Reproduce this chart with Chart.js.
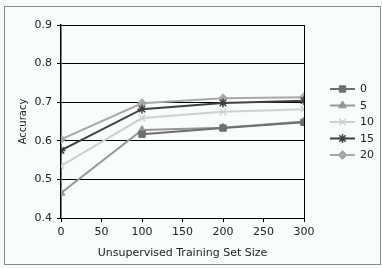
<!DOCTYPE html>
<html><head><meta charset="utf-8">
<script src="https://cdn.jsdelivr.net/npm/chart.js@4"></script>
<style>html,body{margin:0;padding:0;background:#fff;}#wrap{width:382px;height:268px;}</style>
</head><body><div id="wrap"><canvas id="c" width="382" height="268"></canvas></div>
<script>
const xValues = [0, 100, 200, 300];
const seriesNames = ['0', '5', '10', '15', '20'];
const s0 = [null, 0.617, 0.633, 0.648];
const s5 = [0.465, 0.628, 0.634, 0.650];
const s10 = [0.535, 0.659, 0.675, 0.682];
const s15 = [0.575, 0.682, 0.698, 0.704];
const s20 = [0.604, 0.697, 0.710, 0.713];
const yTicks = [0.4, 0.5, 0.6, 0.7, 0.8, 0.9];
const xTicks = [0, 50, 100, 150, 200, 250, 300];

const colors = ['#6e6e6e', '#969696', '#cfcfcf', '#404040', '#a8a8a8'];
const styles = ['rect', 'triangle', 'crossRot', 'star', 'rectRot'];
const radii = [4.5, 4.5, 4.5, 4.5, 4.5];
const allSeries = [s0, s5, s10, s15, s20];

const datasets = allSeries.map((s, i) => ({
  label: seriesNames[i],
  data: s.map((v, j) => ({x: xValues[j], y: v})),
  borderColor: colors[i],
  backgroundColor: colors[i],
  pointStyle: styles[i],
  pointRadius: radii[i],
  pointBorderWidth: (styles[i]==='crossRot'||styles[i]==='star') ? 1.5 : 1,
  borderWidth: 2,
  spanGaps: false,
  tension: 0
}));

const framePlugin = {
  id: 'frame',
  beforeDraw(chart) {
    const ctx = chart.ctx;
    ctx.save();
    ctx.fillStyle = '#f9fcfc';
    ctx.fillRect(0, 0, chart.width, chart.height);
    ctx.strokeStyle = '#8a8a8a';
    ctx.lineWidth = 1;
    ctx.strokeRect(4.5, 6.5, 376, 258);
    ctx.restore();
  },
  afterDraw(chart) {
    const ctx = chart.ctx;
    ctx.save();
    const x0 = 330, x1 = 355, yStart = 89, dy = 16.5;
    chart.data.datasets.forEach((ds, i) => {
      const y = yStart + i * dy;
      ctx.strokeStyle = ds.borderColor;
      ctx.lineWidth = 2;
      ctx.beginPath(); ctx.moveTo(x0, y); ctx.lineTo(x1, y); ctx.stroke();
      ctx.fillStyle = ds.backgroundColor;
      ctx.lineWidth = ds.pointBorderWidth;
      Chart.helpers.drawPoint(ctx, {pointStyle: ds.pointStyle, radius: ds.pointRadius, rotation: 0, borderWidth: ds.pointBorderWidth}, (x0 + x1) / 2, y);
      ctx.fillStyle = '#222';
      ctx.font = '11px "DejaVu Sans"';
      ctx.textBaseline = 'middle';
      ctx.fillText(ds.label, 360, y + 0.5);
    });
    ctx.restore();
  }
};

new Chart(document.getElementById('c'), {
  type: 'line',
  data: { datasets },
  plugins: [framePlugin],
  options: {
    responsive: false,
    animation: false,
    layout: { padding: { left: 17, top: 25, right: 78, bottom: 8 } },
    plugins: { legend: { display: false }, tooltip: { enabled: false } },
    scales: {
      x: {
        type: 'linear', min: 0, max: 300,
        afterBuildTicks(s) { s.ticks = xTicks.map(v => ({value: v})); },
        afterFit(s) { s.height = 42; },
        grid: {
          drawOnChartArea: true,
          color: c => (c.tick && c.tick.value === 300) ? '#000' : 'rgba(0,0,0,0)',
          tickColor: '#000', tickLength: 4, lineWidth: 1
        },
        border: { color: '#000', width: 1 },
        ticks: { color: '#222', font: { family: 'DejaVu Sans', size: 11 }, padding: 4, maxRotation: 0 },
        title: { display: true, text: 'Unsupervised Training Set Size', color: '#222', font: { family: 'DejaVu Sans', size: 11 }, padding: { top: 2, bottom: 0 } }
      },
      y: {
        min: 0.4, max: 0.9,
        afterBuildTicks(s) { s.ticks = yTicks.map(v => ({value: v})); },
        afterFit(s) { s.width = 44; },
        grid: { color: '#000', tickColor: '#000', tickLength: 4, lineWidth: 1 },
        border: { color: '#000', width: 1.5 },
        ticks: { color: '#222', font: { family: 'DejaVu Sans', size: 11 }, padding: 5, callback: v => v.toFixed(1) },
        title: { display: true, text: 'Accuracy', color: '#222', font: { family: 'DejaVu Sans', size: 10 }, padding: { top: 0, bottom: 4 } }
      }
    }
  }
});
</script></body></html>
